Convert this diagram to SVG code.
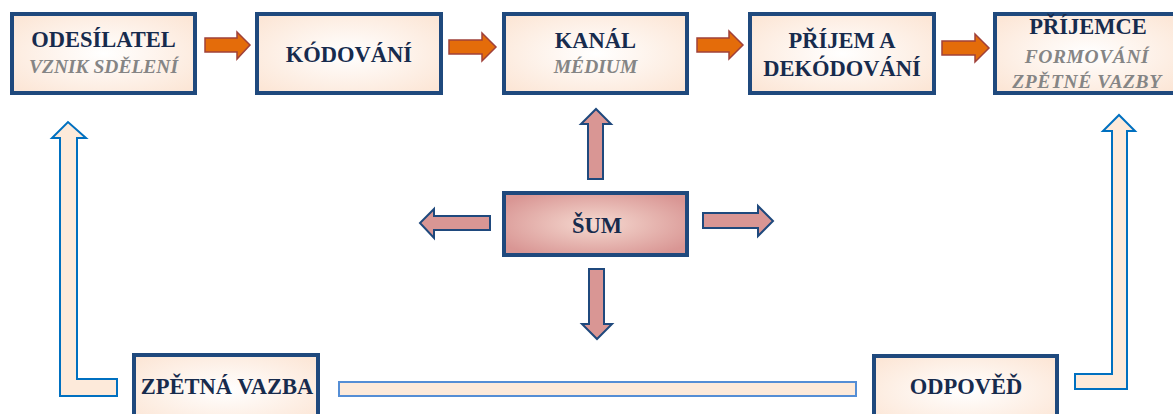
<svg xmlns="http://www.w3.org/2000/svg" width="1173" height="414" viewBox="0 0 1173 414">
  <defs>
    <radialGradient id="peach" cx="0.5" cy="0.5" r="0.65">
      <stop offset="0" stop-color="#ffffff"/>
      <stop offset="1" stop-color="#fce6d6"/>
    </radialGradient>
    <radialGradient id="pink" cx="0.5" cy="0.5" r="0.6">
      <stop offset="0" stop-color="#f5d9d0"/>
      <stop offset="1" stop-color="#d99694"/>
    </radialGradient>
    <style>
      .box { stroke: #1f497d; stroke-width: 4; fill: url(#peach); }
      .noise { stroke: #1f497d; stroke-width: 4; fill: url(#pink); }
      .t { font-family: "Liberation Serif", "Times New Roman", serif; font-weight: bold; font-size: 22.5px; fill: #172b4d; text-anchor: middle; }
      .s { font-family: "Liberation Serif", "Times New Roman", serif; font-weight: bold; font-style: italic; font-size: 19.5px; fill: #858585; text-anchor: middle; }
      .orange { fill: #e46c0a; stroke: #a0413a; stroke-width: 1.5; }
      .rose { fill: #d99694; stroke: #1f497d; stroke-width: 2; }
      .fb { fill: #fdeada; stroke: #0070c0; stroke-width: 2; }
      .bar { fill: #fdeada; stroke: #558ed5; stroke-width: 2; }
    </style>
  </defs>

  <g id="connectors">
    <polygon class="orange" points="205,38 237,38 237,32 250,45 237,59 237,52 205,52"/>
    <polygon class="orange" points="449,40 482,40 482,33 496,47 482,61 482,54 449,54"/>
    <polygon class="orange" points="697,38 729,38 729,31 743,45 729,59 729,52 697,52"/>
    <polygon class="orange" points="942,41 975,41 975,34 989,48 975,62 975,55 942,55"/>
    <polygon class="rose" points="588,179 603,179 603,124 611,124 596,109 581,124 588,124"/>
    <polygon class="rose" points="589,269 604,269 604,324 612,324 597,339 582,324 589,324"/>
    <polygon class="rose" points="490,216 490,230 434,230 434,238 420,223 434,209 434,216"/>
    <polygon class="rose" points="703,213 703,228 758,228 758,236 773,221 758,206 758,213"/>
    <polygon class="fb" points="60,396 117,396 117,379 77,379 77,138 86,138 68,122 52,138 60,138"/>
    <polygon class="fb" points="1075,374 1112,374 1112,131 1103,131 1119,115 1135,131 1127,131 1127,389 1075,389"/>
    <rect class="bar" x="339" y="382" width="517" height="14"/>
  </g>

  <g id="odesilatel">
    <rect class="box" x="12" y="14" width="183" height="79"/>
    <text class="t" x="103.5" y="47">ODESÍLATEL</text>
    <text class="s" x="103.5" y="73">VZNIK SDĚLENÍ</text>
  </g>
  <g id="kodovani">
    <rect class="box" x="257" y="14" width="184" height="79"/>
    <text class="t" x="349" y="62">KÓDOVÁNÍ</text>
  </g>
  <g id="kanal">
    <rect class="box" x="504" y="14" width="183" height="79"/>
    <text class="t" x="595.5" y="48">KANÁL</text>
    <text class="s" x="595.5" y="73">MÉDIUM</text>
  </g>
  <g id="prijem">
    <rect class="box" x="750" y="14" width="184" height="79"/>
    <text class="t" x="842" y="48">PŘÍJEM A</text>
    <text class="t" x="842" y="76">DEKÓDOVÁNÍ</text>
  </g>
  <g id="prijemce">
    <rect class="box" x="995" y="14" width="186" height="79"/>
    <text class="t" x="1088" y="34">PŘÍJEMCE</text>
    <text class="s" x="1087" y="63" letter-spacing="0.6">FORMOVÁNÍ</text>
    <text class="s" x="1087" y="88" letter-spacing="0.6">ZPĚTNÉ VAZBY</text>
  </g>
  <g id="sum">
    <rect class="noise" x="504" y="193" width="183" height="62"/>
    <text class="t" x="597" y="233">ŠUM</text>
  </g>
  <g id="zpetna-vazba">
    <rect class="box" x="134" y="355" width="184" height="70"/>
    <text class="t" x="227" y="394">ZPĚTNÁ VAZBA</text>
  </g>
  <g id="odpoved">
    <rect class="box" x="874" y="356" width="183" height="70"/>
    <text class="t" x="966" y="394">ODPOVĚĎ</text>
  </g>
</svg>
